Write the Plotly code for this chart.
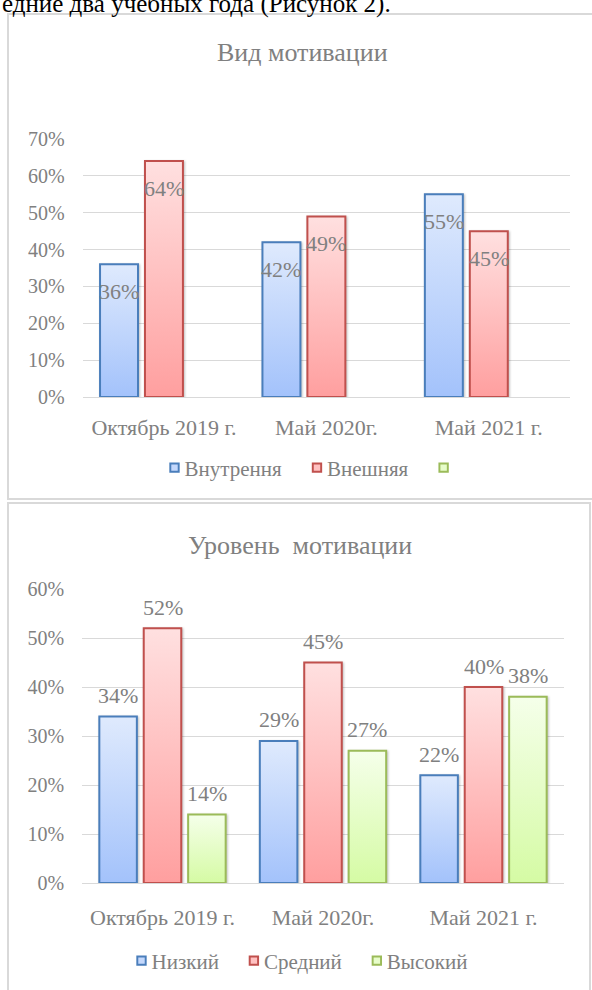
import json
import plotly.graph_objects as go

# ---------------- data ----------------
categories = ["Октябрь 2019 г.", "Май 2020г.", "Май 2021 г."]

type_title = "Вид мотивации"
type_series = ["Внутрення", "Внешняя", ""]
type_internal = [0.36, 0.42, 0.55]
type_external = [0.64, 0.49, 0.45]
type_empty = [None, None, None]
type_ticks = [0, 0.1, 0.2, 0.3, 0.4, 0.5, 0.6, 0.7]
type_ticktext = ["0%", "10%", "20%", "30%", "40%", "50%", "60%", "70%"]

level_title = "Уровень\u00a0 мотивации"
level_series = ["Низкий", "Средний", "Высокий"]
level_low = [0.34, 0.29, 0.22]
level_mid = [0.52, 0.45, 0.40]
level_high = [0.14, 0.27, 0.38]
level_ticks = [0, 0.1, 0.2, 0.3, 0.4, 0.5, 0.6]
level_ticktext = ["0%", "10%", "20%", "30%", "40%", "50%", "60%"]

caption = "едние два учебных года (Рисунок 2)."

# ---------------- style ----------------
FONT = "Liberation Serif, Times New Roman, serif"
GRAY = "#808080"
GRID = "#d9d9d9"
fill_mid = ["#c4d8fc", "#ffc1c1", "#e7fdca"]
line_col = ["#4a7ebb", "#c0504d", "#9bbb59"]
grad_stops = [["#dfeafd", "#a3c2fb"], ["#ffe0e0", "#ff9f9f"], ["#f5ffea", "#d5fba4"]]
BARGAP = 0.17
GROUPGAP = 0.155
W, H = 592, 990

fig = go.Figure()

type_values = [type_internal, type_external, type_empty]
level_values = [level_low, level_mid, level_high]

for i, (name, vals) in enumerate(zip(type_series, type_values)):
    fig.add_trace(go.Bar(
        x=categories, y=vals, name=name, xaxis="x", yaxis="y", legend="legend",
        marker=dict(color=fill_mid[i], line=dict(color=line_col[i], width=2)),
        hoverinfo="skip",
    ))

for i, (name, vals) in enumerate(zip(level_series, level_values)):
    fig.add_trace(go.Bar(
        x=categories, y=vals, name=name, xaxis="x2", yaxis="y2", legend="legend2",
        marker=dict(color=fill_mid[i], line=dict(color=line_col[i], width=2)),
        hoverinfo="skip",
    ))

# data labels (centred on each bar of the group, in category units)
slot = (1 - BARGAP) / 3
annotations = []
for i, vals in enumerate(type_values):
    for j, v in enumerate(vals):
        if v is None:
            continue
        annotations.append(dict(
            x=j + (i - 1) * slot, y=v, xref="x", yref="y", text=f"{round(v*100)}%",
            showarrow=False, yanchor="middle", yshift=-27,
            font=dict(family=FONT, size=22, color=GRAY)))
for i, vals in enumerate(level_values):
    for j, v in enumerate(vals):
        annotations.append(dict(
            x=j + (i - 1) * slot, y=v, xref="x2", yref="y2", text=f"{round(v*100)}%",
            showarrow=False, yanchor="middle", yshift=21,
            font=dict(family=FONT, size=22, color=GRAY)))

# titles and caption
annotations.append(dict(x=302 / W, y=1 - 52 / H, xref="paper", yref="paper", text=type_title,
                        showarrow=False, xanchor="center", yanchor="middle",
                        font=dict(family=FONT, size=26, color=GRAY)))
annotations.append(dict(x=300 / W, y=1 - 545 / H, xref="paper", yref="paper", text=level_title,
                        showarrow=False, xanchor="center", yanchor="middle",
                        font=dict(family=FONT, size=26, color=GRAY)))
annotations.append(dict(x=0, y=1 - 4 / H, xref="paper", yref="paper", text=caption,
                        showarrow=False, xanchor="left", yanchor="middle",
                        font=dict(family=FONT, size=25, color="#000000")))

shapes = [
    dict(type="rect", xref="paper", yref="paper", x0=8 / W, x1=1.02, y0=1 - 499 / H, y1=1 - 14 / H,
         line=dict(color=GRID, width=2), fillcolor="rgba(0,0,0,0)", layer="below"),
    dict(type="rect", xref="paper", yref="paper", x0=8 / W, x1=590 / W, y0=-0.02, y1=1 - 503 / H,
         line=dict(color=GRID, width=2), fillcolor="rgba(0,0,0,0)", layer="below"),
]

xcommon = dict(type="category", showgrid=False, showline=False, zeroline=False,
               ticks="outside", tickcolor="rgba(0,0,0,0)", automargin=False,
               tickfont=dict(family=FONT, size=22, color=GRAY))
ycommon = dict(showgrid=True, gridcolor=GRID, gridwidth=1, zeroline=True, zerolinecolor=GRID,
               zerolinewidth=1, showline=False, ticks="outside", tickcolor="rgba(0,0,0,0)",
               ticklen=13, automargin=False, tickfont=dict(family=FONT, size=20, color=GRAY))

fig.update_layout(
    width=W, height=H, margin=dict(l=0, r=0, t=0, b=0, pad=0, autoexpand=False),
    paper_bgcolor="white", plot_bgcolor="white",
    barmode="group", bargap=BARGAP, bargroupgap=GROUPGAP,
    hovermode=False,
    xaxis=dict(domain=[82.75 / W, 570 / W], anchor="y", ticklen=11, **xcommon),
    yaxis=dict(domain=[1 - 397 / H, 1 - 139 / H], anchor="x", range=[0, 0.7],
               tickvals=type_ticks, ticktext=type_ticktext, **ycommon),
    xaxis2=dict(domain=[82.25 / W, 563.75 / W], anchor="y2", ticklen=15, **xcommon),
    yaxis2=dict(domain=[1 - 883 / H, 1 - 589 / H], anchor="x2", range=[0, 0.6],
                tickvals=level_ticks, ticktext=level_ticktext, **ycommon),
    legend=dict(orientation="h", x=302 / W, xanchor="center", y=1 - 468 / H, yanchor="middle",
                font=dict(family=FONT, size=21, color=GRAY), bgcolor="rgba(0,0,0,0)"),
    legend2=dict(orientation="h", x=292 / W, xanchor="center", y=1 - 961 / H, yanchor="middle",
                 font=dict(family=FONT, size=21, color=GRAY), bgcolor="rgba(0,0,0,0)"),
    annotations=annotations,
    shapes=shapes,
    showlegend=True,
)

post = """
(function(){
document.body.style.margin = '0';
document.body.style.overflow = 'hidden';
var gd = document.getElementById('{plot_id}');
var STOPS = %s;
function applyGrad(){
  var ns = 'http://www.w3.org/2000/svg';
  var svg = gd.querySelector('svg.main-svg');
  if(!svg) return;
  var defs = svg.querySelector('defs');
  if(!defs){ defs = document.createElementNS(ns,'defs'); svg.insertBefore(defs, svg.firstChild); }
  STOPS.forEach(function(s,i){
    if(document.getElementById('bargrad'+i)) return;
    var g = document.createElementNS(ns,'linearGradient');
    g.setAttribute('id','bargrad'+i);
    g.setAttribute('x1','0'); g.setAttribute('y1','0'); g.setAttribute('x2','0'); g.setAttribute('y2','1');
    [[0,s[0]],[1,s[1]]].forEach(function(st){
      var e = document.createElementNS(ns,'stop');
      e.setAttribute('offset', st[0]); e.setAttribute('stop-color', st[1]);
      g.appendChild(e);
    });
    defs.appendChild(g);
  });
  gd.querySelectorAll('.barlayer').forEach(function(layer){
    layer.querySelectorAll('.trace.bars').forEach(function(tr, i){
      tr.querySelectorAll('path').forEach(function(p){
        p.style.fill = 'url(#bargrad'+(i%%3)+')';
        p.style.filter = 'drop-shadow(1px 1px 1px rgba(0,0,0,0.25))';
      });
    });
  });
  gd.querySelectorAll('.legendpoints path').forEach(function(p){
    if(p.getAttribute('data-small')) return;
    var t = p.getAttribute('transform') || '';
    p.setAttribute('transform', t + ' translate(10,0) scale(0.7)');
    p.style.strokeWidth = '2.8px';
    p.setAttribute('data-small', '1');
  });
}
applyGrad();
gd.on('plotly_afterplot', applyGrad);
})();
""" % json.dumps(grad_stops)

fig.write_html("out.html", post_script=post, config={"displayModeBar": False, "staticPlot": True})
